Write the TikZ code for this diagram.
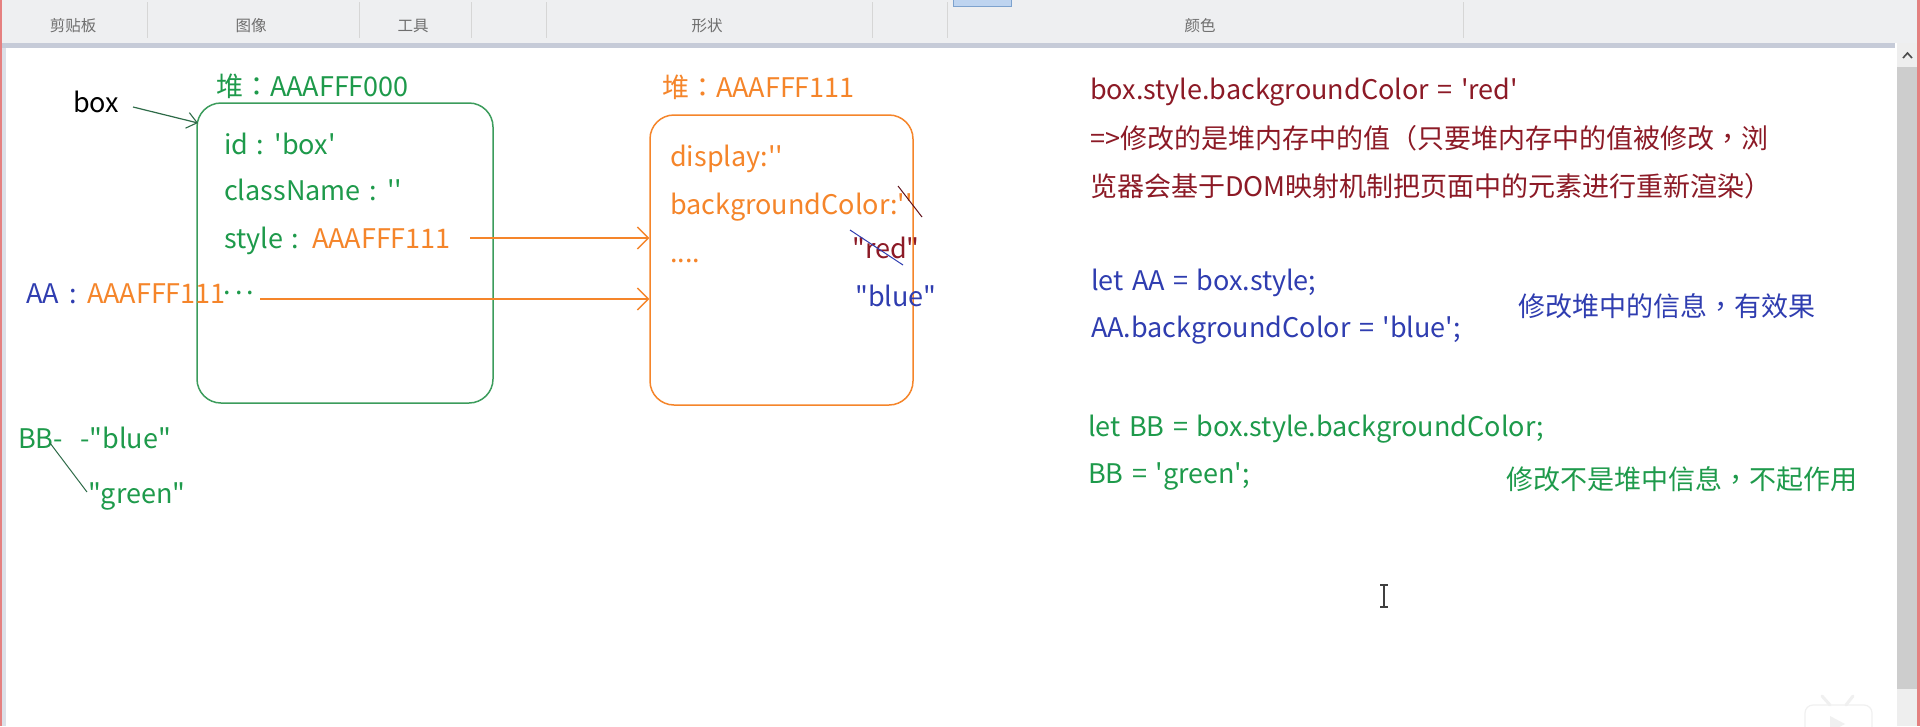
\documentclass[tikz,border=0pt]{standalone}
\usepackage{fontspec}
\setmainfont{Noto Sans CJK SC}[Ligatures=TeXOff, WordSpace=1.4]
\newfontfamily\tcp{Noto Sans CJK TC}[Ligatures=TeXOff]
\newcommand{\fwcolon}{{\tcp ：}}
\newcommand{\fwcomma}{{\tcp ，}}
\usetikzlibrary{arrows.meta}
\definecolor{grn}{HTML}{1E9A4B}
\definecolor{grnline}{HTML}{3C9C5C}
\definecolor{org}{HTML}{F5852A}
\definecolor{mar}{HTML}{8C1A26}
\definecolor{blu}{HTML}{2F3DB0}
\definecolor{dkgrn}{HTML}{2E6B48}
\definecolor{ribbon}{HTML}{EEEFF1}
\definecolor{band}{HTML}{C6CBD8}
\definecolor{sep}{HTML}{D6D6D6}
\definecolor{lbl}{HTML}{6E6E6E}
\definecolor{thumb}{HTML}{CDCDCD}
\definecolor{track}{HTML}{EEEEEE}
\definecolor{redge}{HTML}{E58080}
\begin{document}
\begin{tikzpicture}[x=1pt,y=-1pt,
  txt/.style={anchor=base west, inner sep=0pt, font=\fontsize{27}{30}\selectfont},
  tbl/.style={anchor=center, inner sep=0pt, text=lbl, font=\fontsize{15.5}{18}\selectfont},
  heapbox/.style={draw, line width=1.5pt, rounded corners=24pt, inner sep=0pt},
  orarrow/.style={org, line width=1.5pt, -{Straight Barb[length=11pt,width=22pt,line width=1.3pt]}},
  ptrarrow/.style={dkgrn, line width=1.2pt, -{Straight Barb[length=10pt,width=16pt,line width=1.1pt]}},
  strike/.style={line width=1pt}
]
\useasboundingbox (0,0) rectangle (1920,726);
\fill[white] (0,0) rectangle (1920,726);
% ribbon
\fill[ribbon] (0,0) rectangle (1920,43);
\fill[band] (0,43) rectangle (1895,48);
\foreach \sx in {147,359,471,546,872,947,1463}
  \draw[sep, line width=1pt] (\sx,2) -- (\sx,38);
\draw[fill={rgb,255:red,190;green,212;blue,240}, draw={rgb,255:red,125;green,162;blue,206}] (953,-1) rectangle (1011,6);
\node[tbl] (t1) at (73,26) {剪贴板};
\node[tbl] (t2) at (251,26) {图像};
\node[tbl] (t3) at (413,26) {工具};
\node[tbl] (t4) at (707,26) {形状};
\node[tbl] (t5) at (1200,26) {颜色};
% edges
\fill[redge] (0,0) rectangle (2,726);
\fill[band!60!white] (2,48) rectangle (6,726);
\fill[track] (1897,43) rectangle (1917,726);
\fill[thumb] (1897,67) rectangle (1917,689);
\draw[black!70, line width=1.6pt] (1903,58) -- (1907.5,53) -- (1912,58);
\fill[redge] (1917,0) rectangle (1920,726);

% heap boxes
\node[heapbox, draw=grnline, minimum width=296pt, minimum height=300pt] (heapA) at (345,253) {};
\node[heapbox, draw=org, minimum width=263pt, minimum height=290pt] (heapB) at (781.5,260) {};

% left side texts
\node[txt, text=black] (boxlbl) at (73,112) {box};
\node[txt, text=grn] (heapAlbl) at (216,96) {堆\fwcolon AAAFFF000};
\node[txt, text=grn] (idf) at (224,154) {id : 'box'};
\node[txt, text=grn] (clsf) at (224,200) {className : ''};
\node[txt, text=grn] (stylef) at (224,248) {style :};
\node[txt, text=org] (styleval) at (312,248) {AAAFFF111};
\node[txt] (aa) at (26,303) {\textcolor{blu}{AA\hspace{2pt} :}\hspace{2pt} \textcolor{org}{AAAFFF111}\kern-2pt\textcolor{grn}{\raisebox{9pt}{.\kern4pt.\kern4pt.}}};
\node[txt, text=grn] (bb) at (18,448) {BB-};
\node[txt, text=grn] (bbblue) at (80,448) {-"blue"};
\node[txt, text=grn] (bbgreen) at (88,503) {"green"};

% right heap texts
\node[txt, text=org] (heapBlbl) at (662,97) {堆\fwcolon AAAFFF111};
\node[txt, text=org] (disp) at (670,166) {display:''};
\node[txt, text=org] (bgc) at (670,214) {backgroundColor:''};
\node[txt, text=org] (dots) at (670,262) {....};
\node[txt, text=mar] (red) at (852,258) {"red"};
\node[txt, text=blu] (blue) at (855,306) {"blue"};

% right column
\node[txt, text=mar] (r1) at (1090,99) {box.style.backgroundColor = 'red'};
\node[txt, text=mar] (r2) at (1090,148) {=>修改的是堆内存中的值（只要堆内存中的值被修改\fwcomma 浏};
\node[txt, text=mar] (r3) at (1090,196) {览器会基于DOM映射机制把页面中的元素进行重新渲染）};
\node[txt, text=blu] (r4) at (1091,290) {let AA = box.style;};
\node[txt, text=blu] (r5) at (1091,337) {AA.backgroundColor = 'blue';};
\node[txt, text=blu] (r6) at (1518,316) {修改堆中的信息\fwcomma 有效果};
\node[txt, text=grn] (r7) at (1088,436) {let BB = box.style.backgroundColor;};
\node[txt, text=grn] (r8) at (1088,483) {BB = 'green';};
\node[txt, text=grn] (r9) at (1506,489) {修改不是堆中信息\fwcomma 不起作用};

% connectors
\coordinate (boxs) at (133,107);
\coordinate (boxe) at (198,123);
\draw[ptrarrow] (boxs) -- (boxe);
\coordinate (sty) at (470,238);
\draw[orarrow] (sty) -- (sty -| heapB.west);
\coordinate (aas) at (260,299);
\draw[orarrow] (aas) -- (aas -| heapB.west);
\coordinate (bbs) at (50,443);
\coordinate (bbe) at (87,492);
\draw[dkgrn, line width=1pt] (bbs) -- (bbe);

% strike marks
\draw[strike, mar!70!black] (898,186) -- (922,217);
\draw[strike, blu] (850,230) -- (903,265);

% cursor
\draw[black!75, line width=2pt] (1384,585) -- (1384,607);
\draw[black!75, line width=1.5pt] (1380,585) -- (1388,585) (1380,607) -- (1388,607);

% watermark icon
\draw[black!6, fill=white, line width=1.2pt, rounded corners=8pt] (1805,705) rectangle (1872,740);
\draw[black!6, line width=3pt, line cap=round] (1822,696) -- (1830,705) (1853,696) -- (1846,705);
\fill[black!6] (1830,716) -- (1845,724) -- (1830,732) -- cycle;
\end{tikzpicture}
\end{document}
